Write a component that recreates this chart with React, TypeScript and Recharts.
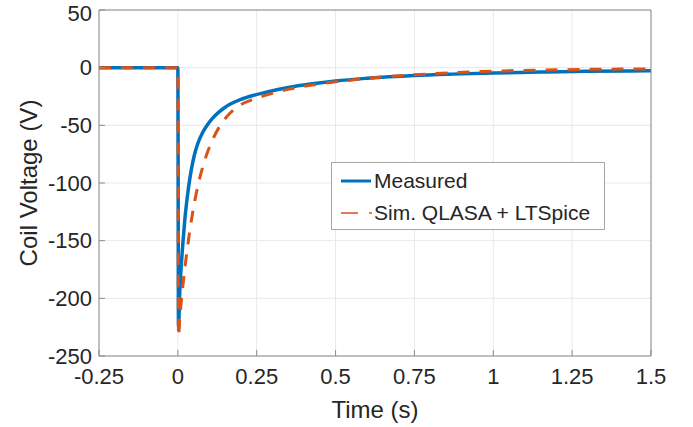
import { LineChart, Line, XAxis, YAxis, CartesianGrid, Legend } from 'recharts';

// time samples (s), denser right after the pulse
const time = [
  -0.25, 0, 0.002, 0.006, 0.01, 0.016, 0.022, 0.03, 0.038, 0.048, 0.054, 0.063, 0.079, 0.095,
  0.111, 0.13, 0.149, 0.165, 0.2, 0.24, 0.28, 0.35, 0.42, 0.5, 0.6, 0.75, 0.87, 1.0, 1.15, 1.3, 1.5,
];
const measured = [
  0, 0, -225, -195, -175, -152, -132, -112, -96, -81, -74, -66, -56, -49,
  -43.5, -38.5, -34.5, -31.8, -27.5, -24, -21.2, -17.2, -14.2, -11.5, -9.2, -6.8, -5.6, -4.6, -3.8, -3.2, -2.6,
];
const simulated = [
  0, 0, -233, -218, -205, -189, -174, -157, -141, -124, -115, -103, -86, -72.5,
  -62, -52, -44.5, -39.5, -32, -27.3, -23.8, -18.8, -15.3, -12.3, -9.3, -6.2, -4.4, -3, -2.1, -1.5, -1.1,
];
const xTicks = [-0.25, 0, 0.25, 0.5, 0.75, 1, 1.25, 1.5];
const yTicks = [-250, -200, -150, -100, -50, 0, 50];

const BLUE = '#0072BD';
const ORANGE = '#D95319';
const FRAME = '#8c8c8c';
const TEXT = '#262626';
const FONT = '"Liberation Sans", Arial, Helvetica, sans-serif';

const data = time.map((t, i) => ({ t, measured: measured[i], sim: simulated[i] }));

const tickStyle = { fill: TEXT, fontSize: 22, fontFamily: FONT };

function ChartLegend() {
  const row = { display: 'flex', alignItems: 'center', height: 32 } as const;
  return (
    <div
      style={{
        width: 272,
        height: 64,
        paddingTop: 2,
        border: '1px solid #a6a6a6',
        background: '#fff',
        fontFamily: FONT,
        fontSize: 21,
        color: TEXT,
      }}
    >
      <div style={row}>
        <svg width={42} height={10}>
          <line x1={9} x2={39} y1={5} y2={5} stroke={BLUE} strokeWidth={3} />
        </svg>
        <span>Measured</span>
      </div>
      <div style={row}>
        <svg width={42} height={10}>
          <line x1={9} x2={40} y1={5} y2={5} stroke={ORANGE} strokeWidth={1.5} strokeDasharray="17 11" />
        </svg>
        <span>Sim. QLASA + LTSpice</span>
      </div>
    </div>
  );
}

export default function App() {
  return (
    <div style={{ position: 'absolute', left: 0, top: 0, background: '#fff' }}>
      <LineChart width={693} height={427} data={data} margin={{ top: 0, right: 0, bottom: 0, left: 0 }}>
        <CartesianGrid xAxisId="b" yAxisId="l" stroke="#e8e8e8" />
        <XAxis
          xAxisId="b"
          dataKey="t"
          type="number"
          domain={[-0.25, 1.5]}
          ticks={xTicks}
          allowDataOverflow
          height={71}
          stroke={FRAME}
          tickSize={-6}
          tickMargin={18}
          tick={tickStyle}
          label={{ value: 'Time (s)', position: 'insideBottom', offset: 9, fill: TEXT, fontSize: 24, fontFamily: FONT }}
        />
        <XAxis
          xAxisId="t"
          orientation="top"
          type="number"
          domain={[-0.25, 1.5]}
          ticks={xTicks}
          allowDataOverflow
          height={10}
          stroke={FRAME}
          tickSize={-6}
          tick={false}
        />
        <YAxis
          yAxisId="l"
          type="number"
          domain={[-250, 50]}
          ticks={yTicks}
          allowDataOverflow
          width={99}
          stroke={FRAME}
          tickSize={-6}
          tickMargin={13}
          tick={tickStyle}
          label={{
            value: 'Coil Voltage (V)',
            angle: -90,
            position: 'insideLeft',
            offset: 28,
            fill: TEXT,
            fontSize: 24,
            fontFamily: FONT,
            style: { textAnchor: 'middle' },
          }}
        />
        <YAxis
          yAxisId="r"
          orientation="right"
          type="number"
          domain={[-250, 50]}
          ticks={yTicks}
          allowDataOverflow
          width={42}
          stroke={FRAME}
          tickSize={-6}
          tick={false}
        />
        <Legend
          layout="horizontal"
          verticalAlign="middle"
          align="center"
          content={<ChartLegend />}
          wrapperStyle={{ left: 331, top: 162, width: 274 }}
        />
        <Line
          xAxisId="b"
          yAxisId="l"
          type="monotone"
          dataKey="measured"
          name="Measured"
          stroke={BLUE}
          strokeWidth={3.5}
          dot={false}
          isAnimationActive={false}
        />
        <Line
          xAxisId="b"
          yAxisId="l"
          type="monotone"
          dataKey="sim"
          name="Sim. QLASA + LTSpice"
          stroke={ORANGE}
          strokeWidth={3}
          strokeDasharray="12 10"
          dot={false}
          isAnimationActive={false}
        />
      </LineChart>
    </div>
  );
}
